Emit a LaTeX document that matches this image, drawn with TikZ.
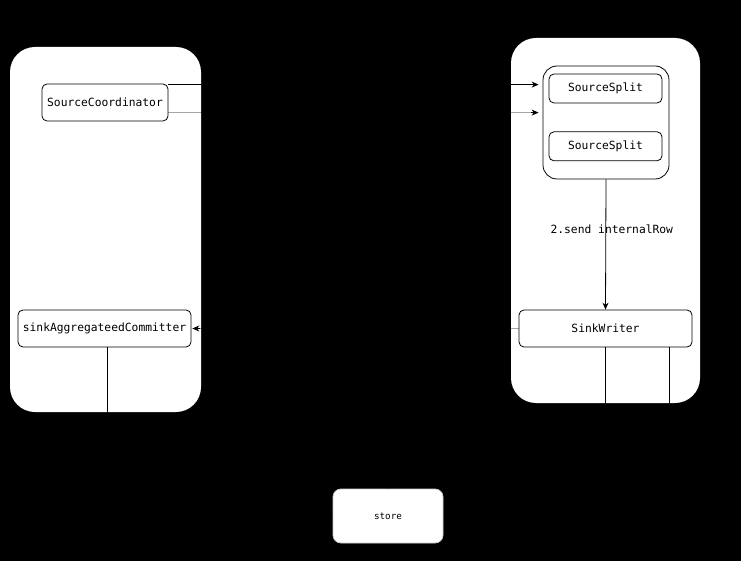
\documentclass[tikz,border=0pt]{standalone}
\usepackage{fontspec}
\setmonofont{DejaVu Sans Mono}
\usetikzlibrary{arrows.meta, positioning}

\begin{document}
\begin{tikzpicture}[
    x=1pt, y=-1pt, line width=0.8pt,
    % Define panel style
    panel/.style={rectangle, fill=white, rounded corners=25pt, inner sep=0pt},
    % Define block style
    block/.style={rectangle, draw, fill=white, rounded corners=5pt, inner sep=0pt, text centered,
        font=\ttfamily\fontsize{11.3}{13}\selectfont},
    % Define arrow style
    arrow/.style={-{Stealth[length=7pt, width=6pt]}},
    faint/.style={draw opacity=0.35}
]

    % Background
    \fill[black] (0,0) rectangle (741,561);
    \useasboundingbox (0,0) rectangle (741,561);

    % Panels
    \node[panel, minimum width=191pt, minimum height=365pt] (leftpanel) at (105.5,229.5) {};
    \node[panel, minimum width=189pt, minimum height=365pt] (rightpanel) at (605.5,220.5) {};

    % Nodes (blocks)
    \node[block, minimum width=126pt, minimum height=37pt] (coordinator) at (105,102.5) {SourceCoordinator};
    \node[block, rounded corners=14pt, minimum width=126pt, minimum height=113pt] (splits) at (606,122.5) {};
    \node[block, minimum width=113pt, minimum height=29pt] (split1) at (605.5,88.5) {SourceSplit};
    \node[block, minimum width=113pt, minimum height=29pt, below=28pt of split1] (split2) {SourceSplit};
    \node[block, minimum width=173pt, minimum height=37pt] (writer) at (605.5,328.5) {SinkWriter};
    \node[block, minimum width=173pt, minimum height=37pt] (committer) at (104.5,328.5) {sinkAggregateedCommitter};
    \node[block, draw=black!20, rounded corners=8pt, minimum width=110pt, minimum height=54pt,
        font=\ttfamily\fontsize{9.3}{11}\selectfont] (store) at (388,516) {store};

    % Arrows
    \coordinate (toptap) at ([yshift=-1pt]coordinator.north east);
    \coordinate (lowtap) at ([yshift=-29pt]coordinator.north east);
    \coordinate (committertap) at ([xshift=2.5pt]committer.south);
    \coordinate (writertap) at ([xshift=63.5pt]writer.south);
    \draw[arrow, shorten >=4pt] (toptap) -- (toptap -| splits.west);
    \draw[faint, shorten >=10pt] (lowtap) -- (lowtap -| splits.west);
    \draw[arrow, shorten >=4pt] ([xshift=-12pt]lowtap -| splits.west) -- (lowtap -| splits.west);
    \draw[arrow] (splits.south) -- node[pos=0.38, xshift=6pt, font=\ttfamily\fontsize{11.3}{13}\selectfont] {2.send internalRow} (writer.north);
    \draw[faint, shorten >=6pt] (writer.west) -- (committer.east);
    \draw[arrow, shorten >=1pt] ([xshift=9pt]committer.east) -- (committer.east);
    \draw[arrow] (committertap) |- (store.west);
    \draw[arrow] (writer.south) |- (store.east);
    \draw[arrow] (writertap) -- ++(0,113) -| (store.north);

\end{tikzpicture}
\end{document}
